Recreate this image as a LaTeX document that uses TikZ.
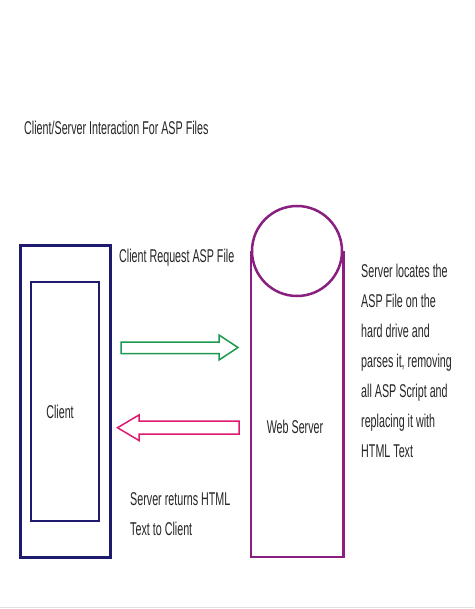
\documentclass[tikz,border=0pt]{standalone}
\usepackage{fontspec}
\setmainfont{Liberation Sans}[FakeStretch=0.58]
\usetikzlibrary{calc,positioning}
\definecolor{clientblue}{HTML}{1E1A6E}
\definecolor{serverpurple}{HTML}{8A1F80}
\definecolor{reqgreen}{HTML}{1E9A50}
\definecolor{retpink}{HTML}{E0186E}
\tikzset{
  lbl/.style={inner sep=0pt, font=\fontsize{18.5}{30}\selectfont, text=black!85},
  blockarrow/.style={line width=1.5pt, line join=miter}
}

\begin{document}
\begin{tikzpicture}[x=1pt,y=-1pt]
\useasboundingbox (0,0) rectangle (474,609);
\fill[white] (0,0) rectangle (474,609);

% Title.
\node[lbl, anchor=west] (title) at (24,128) {Client/Server Interaction For ASP Files};

% Client boxes.
\node[draw=clientblue, line width=3pt, minimum width=89.5pt, minimum height=312pt, inner sep=0pt] (clientout) at (65.25,401) {};
\node[draw=clientblue, line width=1.5pt, minimum width=68pt, minimum height=239pt, inner sep=0pt] (clientin) at (65,401.5) {};
\node[lbl] (client) at (60,412) {Client};

% Web server: disk on top of a tall box.
\node[draw=serverpurple, line width=2.5pt, circle, minimum size=90pt, inner sep=0pt] (disk) at (297,251) {};
\draw[serverpurple, line width=2.5pt] (disk.west) -- ++(0,306) -| (disk.east);
\node[lbl] (server) at (295,427) {Web Server};

% Request arrow.
\draw[blockarrow, reqgreen] (121,342) -- (219,342) -- (219,335) -- (238,347.5)
  -- (219,360) -- (219,353.5) -- (121,353.5) -- cycle;
\node[lbl, anchor=west] (request) at (119,258) {Client Request ASP File};

% Return arrow.
\draw[blockarrow, retpink] (239,421) -- (139,421) -- (139,415) -- (117.5,427.7)
  -- (139,440.5) -- (139,434) -- (239,434) -- cycle;
\node[lbl, anchor=north west, align=left] (returns) at (130,492) {Server returns HTML\\Text to Client};

% Server side note.
\node[lbl, anchor=north west, align=left] (note) at (361,264)
  {Server locates the\\ASP File on the\\hard drive and\\parses it, removing\\all ASP Script and\\replacing it with\\HTML Text};

\draw[black!12] (0,607.5) -- (474,607.5);
\end{tikzpicture}
\end{document}
